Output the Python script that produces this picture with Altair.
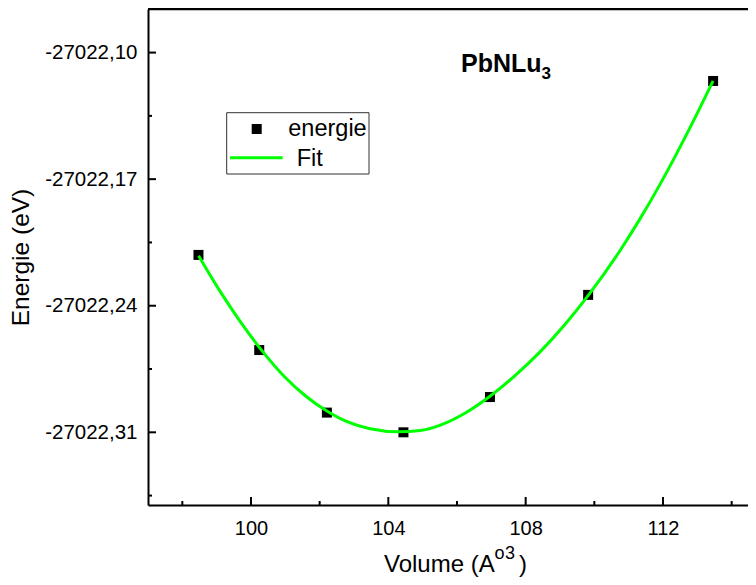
import altair as alt
import pandas as pd

# Data points (volume, energy)
vol = [98.47, 100.24, 102.21, 104.44, 106.96, 109.82, 113.46]
ene = [-27022.2119, -27022.2645, -27022.2991, -27022.3100, -27022.2905, -27022.2340, -27022.1157]

# Fit curve
fit_vol = [98.474, 99.106, 99.688, 100.271, 100.999, 101.582, 102.222, 102.601, 103.475,
           104.290, 104.931, 105.514, 106.242, 106.970, 107.698, 108.426, 109.125, 109.824,
           110.756, 111.339, 111.921, 112.795, 113.456]
fit_ene = [-27022.2123, -27022.2322, -27022.2488, -27022.2637, -27022.2797, -27022.2898,
           -27022.2984, -27022.3024, -27022.3080, -27022.3097, -27022.3090, -27022.3060,
           -27022.2993, -27022.2899, -27022.2785, -27022.2654, -27022.2508, -27022.2343,
           -27022.2093, -27022.1917, -27022.1726, -27022.1412, -27022.1157]

x_major = [100, 104, 108, 112]
x_minor = [98, 102, 106, 110, 114]
y_major = [-27022.10, -27022.17, -27022.24, -27022.31]
y_minor = [-27022.135, -27022.205, -27022.275, -27022.345]

W, H = 600, 496
FONT = "Liberation Sans"

xs = alt.Scale(domain=[97.0, 114.476], nice=False, zero=False)
ys = alt.Scale(domain=[-27022.3502, -27022.0759], nice=False, zero=False)

pts = pd.DataFrame({"v": vol, "e": ene})
fit = pd.DataFrame({"v": fit_vol, "e": fit_ene})
one = pd.DataFrame({"a": [0]})

x_axis = alt.Axis(values=x_major, ticks=False, tickSize=0, grid=False, labelFont=FONT,
                  labelFontSize=20, labelColor="black", labelPadding=13,
                  domainColor="black", domainWidth=2, title=None)
y_axis = alt.Axis(values=y_major, ticks=False, tickSize=0, grid=False, labelFont=FONT,
                  labelFontSize=20.5, labelColor="black", labelPadding=11,
                  format=".2f", labelExpr="replace(replace(datum.label, '\u2212', '-'), '.', ',')",
                  domainColor="black", domainWidth=2, title="Energie (eV)",
                  titleFont=FONT, titleFontSize=24.5, titleFontWeight="normal",
                  titleColor="black", titleX=-120, titleY=H / 2, titleBaseline="alphabetic")

points = alt.Chart(pts).mark_point(shape="square", filled=True, size=100, color="black", opacity=1).encode(
    x=alt.X("v:Q", scale=xs, axis=x_axis),
    y=alt.Y("e:Q", scale=ys, axis=y_axis),
)

line = alt.Chart(fit).mark_line(color="#00FF00", strokeWidth=3, interpolate="monotone").encode(
    x=alt.X("v:Q", scale=xs, axis=x_axis),
    y=alt.Y("e:Q", scale=ys, axis=y_axis),
)

def xticks(vals, length):
    return alt.Chart(pd.DataFrame({"v": vals})).mark_rule(color="black", strokeWidth=2).encode(
        x=alt.X("v:Q", scale=xs, axis=x_axis),
        y=alt.value(H), y2=alt.value(H - length))

def yticks(vals, length):
    return alt.Chart(pd.DataFrame({"e": vals})).mark_rule(color="black", strokeWidth=2).encode(
        y=alt.Y("e:Q", scale=ys, axis=y_axis),
        x=alt.value(0), x2=alt.value(length))

def label(text, x, y, size, weight="normal"):
    return alt.Chart(one).mark_text(text=text, font=FONT, fontSize=size, fontWeight=weight,
                                    align="left", baseline="alphabetic", color="black").encode(
        x=alt.value(x), y=alt.value(y))

top_line = alt.Chart(one).mark_rule(color="black", strokeWidth=2.5).encode(
    x=alt.value(0), x2=alt.value(W), y=alt.value(0))

legend_box = alt.Chart(one).mark_rect(fill="white", stroke="#333333", strokeWidth=1).encode(
    x=alt.value(78.7), x2=alt.value(221), y=alt.value(103.7), y2=alt.value(165))
legend_sq = alt.Chart(one).mark_point(shape="square", filled=True, size=100, color="black", opacity=1).encode(
    x=alt.value(108.7), y=alt.value(120))
legend_ln = alt.Chart(one).mark_rule(color="#00FF00", strokeWidth=3).encode(
    x=alt.value(82), x2=alt.value(134.7), y=alt.value(148.7))

chart = alt.layer(
    points, line,
    xticks(x_major, 8), xticks(x_minor, 4), yticks(y_major, 8), yticks(y_minor, 4),
    top_line, legend_box, legend_sq, legend_ln,
    label("energie", 140.3, 127, 23.5), label("Fit", 148.7, 157, 23.5),
    label("PbNLu", 313, 62.7, 25, "bold"), label("3", 393.5, 70.3, 17, "bold"),
    label("Volume (A", 236, H + 67, 24), label("o", 346.5, H + 54, 18),
    label("3", 357, H + 54, 18), label(")", 371, H + 67, 24),
).properties(
    width=W, height=H,
    autosize=alt.AutoSizeParams(type="none"),
    padding={"left": 140, "top": 1, "right": 0, "bottom": 72},
).configure_view(stroke=None)

chart.save("out.html", embed_options={"renderer": "svg", "actions": False})
